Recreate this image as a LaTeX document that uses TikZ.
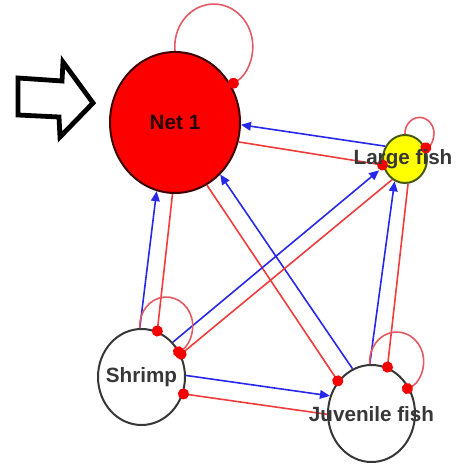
\documentclass[tikz,border=0pt]{standalone}
\usepackage{fontspec}
\setmainfont{Liberation Sans}
\usetikzlibrary{shapes.geometric, arrows.meta}
\definecolor{edgeblue}{RGB}{40,40,235}
\definecolor{edgered}{RGB}{240,60,60}
\definecolor{looppink}{RGB}{228,90,100}
\definecolor{dotred}{RGB}{245,0,0}
\definecolor{nodeline}{RGB}{55,55,55}
\definecolor{netred}{RGB}{252,0,0}
\definecolor{fishyellow}{RGB}{255,255,0}
\definecolor{fishline}{RGB}{70,90,20}

\begin{document}
\begin{tikzpicture}[
    x=0.75pt, y=0.75pt,
    compbox/.style={ellipse, draw=nodeline, line width=1.5pt, inner sep=0pt},
    lbl/.style={font=\fontsize{15.5}{18}\selectfont\bfseries, text=nodeline, inner sep=0pt},
    feed/.style={line width=1.2pt, draw=edgeblue, -{Triangle[length=7.5pt, width=6.5pt, color=edgeblue]}},
    drain/.style={line width=1.2pt, draw=edgered, shorten >=-4pt, -{Circle[length=8.3pt, color=dotred]}},
    selfloop/.style={drain, draw=looppink}
]
\useasboundingbox (0,0) rectangle (456,464);

% hollow pointer
\draw[line width=3.6pt, line join=miter, miter limit=4] (18,386) -- (62,383) -- (63,402) -- (93,361) -- (60,327) -- (59,347) -- (18,349) -- cycle;

% compartments
\node[compbox, fill=netred, draw=black!75!red, minimum width=97.5pt, minimum height=105.75pt] (net) at (175,341.5) {};
\node[compbox, fill=fishyellow, draw=fishline, minimum width=33pt, minimum height=36pt] (lfish) at (405,305) {};
\node[compbox, fill=white, minimum width=65.25pt, minimum height=72pt] (shrimp) at (141.5,87) {};
\node[compbox, fill=white, minimum width=65.25pt, minimum height=72.75pt] (juv) at (371.5,50.5) {};

% flows
\draw[feed] (lfish.147) -- (net.-2);
\draw[drain] (net.-17) -- (lfish.195);
\draw[feed] (shrimp.92) -- (net.255);
\draw[drain] (net.268) -- (shrimp.71);
\draw[feed] (juv.113) -- (net.-49);
\draw[drain] (net.-63) -- (juv.136);
\draw[feed, shorten >=4pt] (shrimp.48) -- (lfish.200);
\draw[drain] (lfish.238) -- (shrimp.30);
\draw[feed] (juv.92) -- (lfish.245);
\draw[drain] (lfish.277) -- (juv.71);
\draw[feed] (shrimp.2) -- (juv.157);
\draw[drain] (juv.181) -- (shrimp.-22);

% self loops
\draw[selfloop] (net.90) arc[start angle=186, end angle=-60, x radius=39, y radius=42.5];
\draw[selfloop] (lfish.90) arc[start angle=182, end angle=-65, x radius=14.5, y radius=16];
\draw[selfloop] (shrimp.92) arc[start angle=184, end angle=-63, x radius=26.5, y radius=29];
\draw[selfloop] (juv.92) arc[start angle=185, end angle=-67, x radius=27, y radius=29.5];

% labels
\node[lbl, text=black!85!red] (netlbl) at (net) {Net 1};
\node[lbl] (lfishlbl) at ([xshift=-1.5pt]lfish.center) {Large fish};
\node[lbl] (shrimplbl) at (shrimp) {Shrimp};
\node[lbl] (juvlbl) at ([yshift=-0.5pt]juv.center) {Juvenile fish};
\end{tikzpicture}
\end{document}
